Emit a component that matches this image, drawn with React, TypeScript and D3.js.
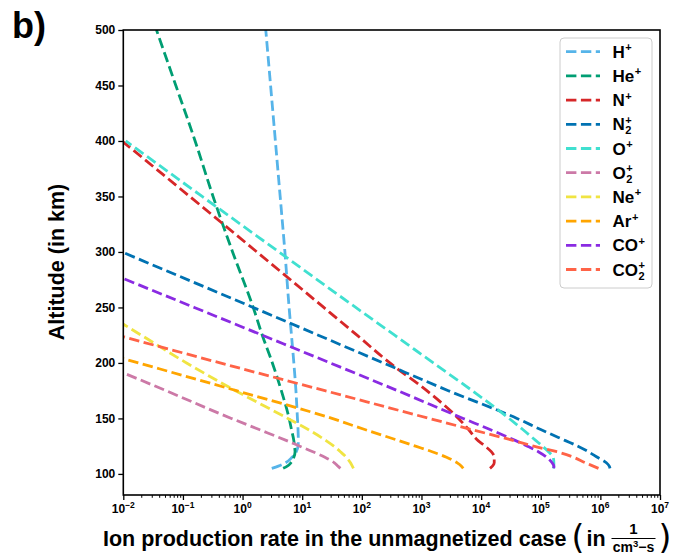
import { useEffect, useRef } from "react";
import * as d3 from "d3";

// altitude grid (km) shared by every ion
const altitudes = [105, 107, 110, 115, 120, 125, 130, 140, 150, 175, 200, 225, 250, 300, 350, 400, 450, 500];

// production rates (1 / cm^3 s), null = outside the plotted range
const hPlus = [3.09, 3.98, 5.25, 6.76, 7.94, 8.51, 8.61, 8.51, 8.32, 7.85, 7.24, 6.61, 6.03, 5.13, 4.27, 3.55, 2.95, 2.45];
const hePlus = [4.79, 5.62, 6.46, 7.24, 7.59, 7.41, 7.24, 6.61, 6.03, 4.47, 3.16, 2.14, 1.51, 0.68, 0.32, 0.16, 0.076, 0.036];
const nPlus = [14100, 15500, 16600, 16600, 14800, 11700, 8900, 6170, 4170, 1230, 295, 83, 23, 1.74, 0.13, 0.0095, null, null];
const n2Plus = [1.45e6, 1.41e6, 1.26e6, 8.9e5, 6.3e5, 4.2e5, 2.6e5, 1.0e5, 4.0e4, 2820, 229, 18.6, 1.5, 0.0095, null, null, null, null];
const oPlus = [1.62e5, 1.66e5, 1.66e5, 1.62e5, 1.35e5, 1.07e5, 8.3e4, 5.0e4, 2.95e4, 7100, 1580, 355, 79, 4.07, 0.21, 0.011, null, null];
const o2Plus = [43.7, 39.8, 34.7, 24, 15.1, 9.1, 5.5, 1.9, 0.65, 0.052, 0.004, null, null, null, null, null, null, null];
const nePlus = [72.4, 69.2, 64.6, 55, 43.7, 33.9, 25.1, 12.6, 5.75, 0.76, 0.115, 0.02, 0.0035, null, null, null, null, null];
const arPlus = [5010, 4680, 3980, 2630, 1510, 794, 417, 112, 31.6, 0.79, 0.018, 0.0004, null, null, null, null, null, null];
const coPlus = [1.66e5, 1.66e5, 1.55e5, 1.26e5, 9.1e4, 6.0e4, 3.8e4, 1.41e4, 5010, 398, 29.5, 2.14, 0.155, 0.0008, null, null, null, null];
const co2Plus = [9.3e5, 7.6e5, 5.6e5, 3.55e5, 1.86e5, 7.6e4, 3.55e4, 6900, 1350, 24, 0.42, 0.008, null, null, null, null, null, null];

const ionBases = ["H", "He", "N", "N", "O", "O", "Ne", "Ar", "CO", "CO"];
const ionSubs = ["", "", "", "2", "", "2", "", "", "", "2"];
const ionColors = ["#56B4E9", "#009E73", "#D62728", "#0072B2", "#40E0D0", "#CC79A7", "#F0E442", "#FFA500", "#8A2BE2", "#FF6347"];

const xTickExps = [-2, -1, 0, 1, 2, 3, 4, 5, 6, 7];
const yTicks = [100, 150, 200, 250, 300, 350, 400, 450, 500];

const FONT = "'Liberation Sans', Arial, Helvetica, sans-serif";

const App = () => {
  const ref = useRef<SVGSVGElement>(null);

  useEffect(() => {
    const svg = d3.select(ref.current);
    svg.selectAll("*").remove();

    const left = 123.3, right = 660, top = 30, bottom = 495;
    const x = d3.scaleLog().domain([1e-2, 1e7]).range([left, right]);
    const y = d3.scaleLinear().domain([81, 500]).range([bottom, top]);

    svg.append("defs").append("clipPath").attr("id", "plotclip")
      .append("rect").attr("x", left).attr("y", top)
      .attr("width", right - left).attr("height", bottom - top);

    const series = [hPlus, hePlus, nPlus, n2Plus, oPlus, o2Plus, nePlus, arPlus, coPlus, co2Plus];

    const line = d3.line<{ alt: number; v: number | null }>()
      .defined((d) => d.v != null)
      .x((d) => x(d.v as number))
      .y((d) => y(d.alt))
      .curve(d3.curveMonotoneY);

    const g = svg.append("g").attr("clip-path", "url(#plotclip)");
    series.forEach((vals, i) => {
      const pts = altitudes.map((a, j) => ({ alt: a, v: vals[j] }));
      g.append("path")
        .attr("d", line(pts))
        .attr("fill", "none")
        .attr("stroke", ionColors[i])
        .attr("stroke-width", 2.8)
        .attr("stroke-dasharray", "10.4,4.5");
    });

    // y axis
    const yAxis = svg.append("g").attr("transform", `translate(${left},0)`)
      .call(d3.axisLeft(y).tickValues(yTicks).tickSize(5).tickPadding(3).tickFormat(d3.format("d")));
    yAxis.select(".domain").remove();
    yAxis.selectAll("line").attr("stroke", "#000").attr("stroke-width", 1.3);
    yAxis.selectAll("text").attr("font-family", FONT).attr("font-weight", "bold")
      .attr("font-size", 12).attr("fill", "#000");

    // x axis: major + minor ticks
    const majors = xTickExps.map((e) => Math.pow(10, e));
    const minors: number[] = [];
    xTickExps.slice(0, -1).forEach((e) => {
      for (let k = 2; k <= 9; k++) minors.push(k * Math.pow(10, e));
    });
    const xMaj = svg.append("g").attr("transform", `translate(0,${bottom})`)
      .call(d3.axisBottom(x).tickValues(majors).tickSize(5).tickFormat(() => ""));
    xMaj.select(".domain").remove();
    xMaj.selectAll("line").attr("stroke", "#000").attr("stroke-width", 1.3);
    const xMin = svg.append("g").attr("transform", `translate(0,${bottom})`)
      .call(d3.axisBottom(x).tickValues(minors).tickSize(2.8).tickFormat(() => ""));
    xMin.select(".domain").remove();
    xMin.selectAll("line").attr("stroke", "#000").attr("stroke-width", 1);

    xTickExps.forEach((e) => {
      const t = svg.append("text")
        .attr("x", x(Math.pow(10, e)))
        .attr("y", 513)
        .attr("text-anchor", "middle")
        .attr("font-family", FONT).attr("font-weight", "bold").attr("font-size", 12);
      t.append("tspan").text("10");
      t.append("tspan").attr("dy", -5).attr("font-size", 8.5)
        .text(e < 0 ? "\u2212" + Math.abs(e) : String(e));
    });

    // frame
    svg.append("rect").attr("x", left).attr("y", top)
      .attr("width", right - left).attr("height", bottom - top)
      .attr("fill", "none").attr("stroke", "#000").attr("stroke-width", 1.6);

    // axis labels
    svg.append("text")
      .attr("transform", `translate(64,262) rotate(-90)`)
      .attr("text-anchor", "middle")
      .attr("font-family", FONT).attr("font-weight", "bold").attr("font-size", 21.5)
      .text("Altitude (in km)");

    const xl = svg.append("text").attr("x", 103).attr("y", 546)
      .attr("font-family", FONT).attr("font-weight", "bold").attr("font-size", 21.5)
      .text("Ion production rate in the unmagnetized case");
    const xlEnd = 103 + (xl.node() as SVGTextElement).getComputedTextLength();
    svg.append("text").attr("x", xlEnd + 5).attr("y", 549)
      .attr("font-family", "'DejaVu Sans', sans-serif").attr("font-size", 33)
      .text("(");
    svg.append("text").attr("x", xlEnd + 20).attr("y", 546)
      .attr("font-family", FONT).attr("font-weight", "bold").attr("font-size", 21.5)
      .text("in");
    const fx = xlEnd + 67;
    svg.append("text").attr("x", fx).attr("y", 534).attr("text-anchor", "middle")
      .attr("font-family", FONT).attr("font-weight", "bold").attr("font-size", 15)
      .text("1");
    svg.append("line").attr("x1", fx - 22).attr("x2", fx + 22).attr("y1", 538.5).attr("y2", 538.5)
      .attr("stroke", "#000").attr("stroke-width", 1.2);
    const den = svg.append("text").attr("x", fx).attr("y", 552).attr("text-anchor", "middle")
      .attr("font-family", FONT).attr("font-weight", "bold").attr("font-size", 14);
    den.append("tspan").text("cm");
    den.append("tspan").attr("dy", -5).attr("font-size", 9.5).text("3");
    den.append("tspan").attr("dy", 5).text("\u2212s");
    svg.append("text").attr("x", fx + 25).attr("y", 549)
      .attr("font-family", "'DejaVu Sans', sans-serif").attr("font-size", 33)
      .text(")");

    // panel tag
    svg.append("text").attr("x", 12).attr("y", 38)
      .attr("font-family", FONT).attr("font-weight", "bold").attr("font-size", 36)
      .text("b)");

    // legend
    const lg = svg.append("g");
    lg.append("rect").attr("x", 560).attr("y", 38).attr("width", 92).attr("height", 250)
      .attr("rx", 4).attr("fill", "#fff").attr("fill-opacity", 0.8)
      .attr("stroke", "#cccccc").attr("stroke-width", 1);
    ionBases.forEach((b, i) => {
      const cy = 51.7 + i * 24.2;
      lg.append("line").attr("x1", 566).attr("x2", 600).attr("y1", cy).attr("y2", cy)
        .attr("stroke", ionColors[i]).attr("stroke-width", 2.8)
        .attr("stroke-dasharray", "10.4,4.5");
      const t = lg.append("text").attr("x", 612.5).attr("y", cy + 6)
        .attr("font-family", FONT).attr("font-weight", "bold").attr("font-size", 17)
        .text(b);
      const w = (t.node() as SVGTextElement).getComputedTextLength();
      lg.append("text").attr("x", 612.5 + w + 0.5).attr("y", cy - 0.5)
        .attr("font-family", FONT).attr("font-weight", "bold").attr("font-size", 11)
        .text("+");
      if (ionSubs[i]) {
        lg.append("text").attr("x", 612.5 + w + 0.5).attr("y", cy + 10)
          .attr("font-family", FONT).attr("font-weight", "bold").attr("font-size", 11)
          .text(ionSubs[i]);
      }
    });
  }, []);

  return (
    <div style={{ position: "absolute", left: 0, top: 0 }}>
      <svg ref={ref} width={673} height={560} />
    </div>
  );
};

export default App;
